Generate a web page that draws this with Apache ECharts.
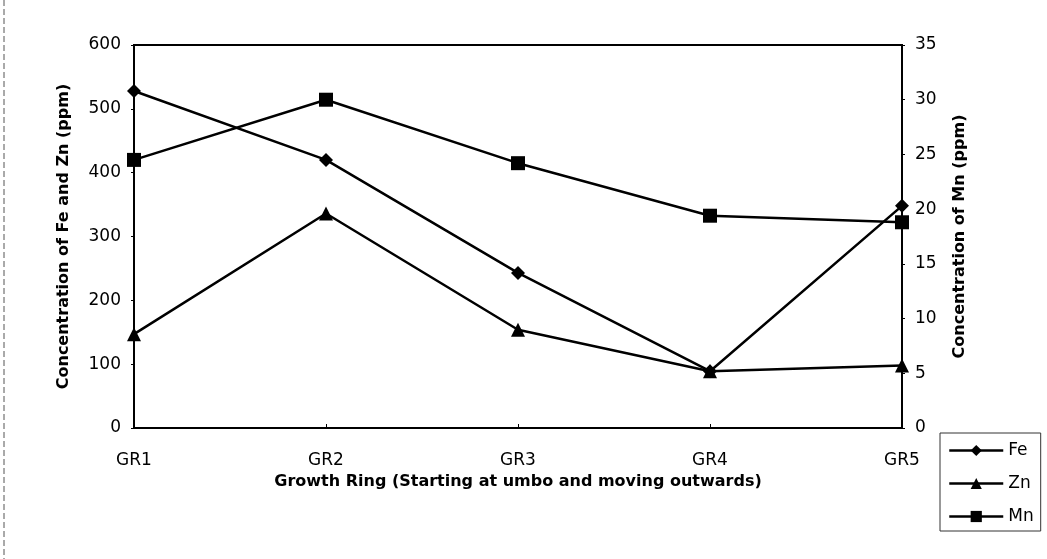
<!DOCTYPE html>
<html>
<head>
<meta charset="utf-8">
<script src="https://cdn.jsdelivr.net/npm/echarts@6/dist/echarts.min.js"></script>
<style>
  html, body { margin: 0; padding: 0; background: #fff; }
  #chart { width: 1047px; height: 559px; }
</style>
</head>
<body>
<div id="chart"></div>
<script>
// growth rings
var rings = ["GR1", "GR2", "GR3", "GR4", "GR5"];
// Fe and Zn on left axis, Mn on right axis (ppm)
var feVals = [528, 420, 243, 89, 348];
var znVals = [147, 336, 154, 89, 98];
var mnVals = [24.5, 30, 24.2, 19.4, 18.8];

var font = "DejaVu Sans, Arial, sans-serif";

var myChart = echarts.init(document.getElementById("chart"));
myChart.setOption({
  animation: false,
  backgroundColor: "#fff",
  textStyle: { fontFamily: font, color: "#000" },
  grid: {
    left: 134, right: 145, top: 45, bottom: 131,
    show: true, borderColor: "#000", borderWidth: 2
  },
  legend: {
    orient: "vertical",
    left: 940, top: 433,
    itemWidth: 54, itemHeight: 14, itemGap: 16,
    padding: [9, 7, 6, 8],
    borderColor: "#333", borderWidth: 1,
    lineStyle: { width: 2.5, color: "#000" },
    textStyle: { fontSize: 17, color: "#000", fontFamily: font },
    data: ["Fe", "Zn", "Mn"]
  },
  xAxis: {
    type: "category",
    data: rings,
    boundaryGap: false,
    axisLine: { lineStyle: { color: "#000", width: 2 } },
    axisTick: { show: true, inside: true, length: 4, lineStyle: { color: "#000" } },
    axisLabel: { fontSize: 17, color: "#000", margin: 24 },
    name: "Growth Ring (Starting at umbo and moving outwards)",
    nameLocation: "middle",
    nameGap: 41,
    nameTextStyle: { fontSize: 16, fontWeight: "bold", color: "#000" }
  },
  yAxis: [
    {
      type: "value", min: 0, max: 600, interval: 100,
      splitLine: { show: false },
      axisLine: { show: true, lineStyle: { color: "#000", width: 2 } },
      axisTick: { show: true, length: 3, lineStyle: { color: "#000" } },
      axisLabel: { fontSize: 17, color: "#000", margin: 13 },
      name: "Concentration of Fe and Zn (ppm)",
      nameLocation: "middle",
      nameGap: 62,
      nameTextStyle: { fontSize: 16, fontWeight: "bold", color: "#000" }
    },
    {
      type: "value", min: 0, max: 35, interval: 5,
      splitLine: { show: false },
      axisLine: { show: true, lineStyle: { color: "#000", width: 2 } },
      axisTick: { show: true, length: 3, lineStyle: { color: "#000" } },
      axisLabel: { fontSize: 17, color: "#000", margin: 13 },
      name: "Concentration of Mn (ppm)",
      nameLocation: "middle",
      nameGap: 50,
      nameRotate: 90,
      nameTextStyle: { fontSize: 16, fontWeight: "bold", color: "#000" }
    }
  ],
  series: [
    {
      name: "Fe", type: "line", yAxisIndex: 0, data: feVals,
      symbol: "diamond", symbolSize: 14,
      lineStyle: { color: "#000", width: 2.5 },
      itemStyle: { color: "#000" }
    },
    {
      name: "Zn", type: "line", yAxisIndex: 0, data: znVals,
      symbol: "triangle", symbolSize: 14,
      lineStyle: { color: "#000", width: 2.5 },
      itemStyle: { color: "#000" }
    },
    {
      name: "Mn", type: "line", yAxisIndex: 1, data: mnVals,
      symbol: "rect", symbolSize: 14,
      lineStyle: { color: "#000", width: 2.5 },
      itemStyle: { color: "#000" }
    }
  ],
  graphic: [
    {
      type: "line",
      shape: { x1: 4, y1: 0, x2: 4, y2: 559 },
      style: { stroke: "#555", lineWidth: 1, lineDash: [6, 3] }
    }
  ]
});
</script>
</body>
</html>
